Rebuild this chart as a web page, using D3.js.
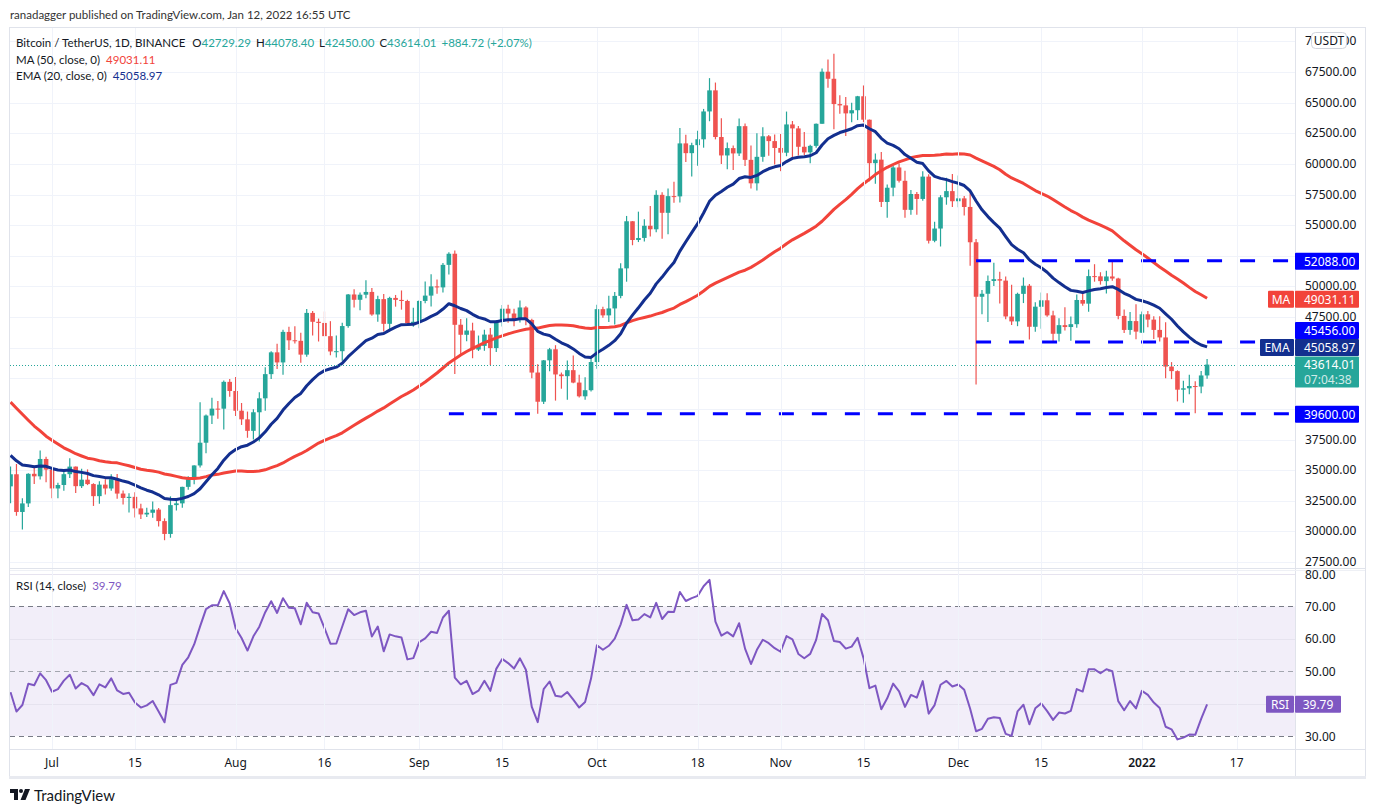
<!DOCTYPE html>
<html><head><meta charset="utf-8">
<script src="https://cdn.jsdelivr.net/npm/d3@7/dist/d3.min.js"></script>
<style>
html,body{margin:0;padding:0;background:#fff;}
svg{display:block;font-family:"Noto Sans",sans-serif;}
.lbl{font-family:Lato,"Noto Sans",sans-serif;}
</style></head>
<body>
<svg id="chart" width="1375" height="812"></svg>
<script>
// ---------- DATA ----------
const firstDay = "2021-06-24"; // first candle, one candle per day
const openPrices = [33675,34663,31584,32283,34700,34494,35911,
35045,33502,33786,34669,35288,33690,34220,33863,32875,33815,33502,34259,33086,32729,32820,31874,31383,31520,31778,30839,29790,32144,32287,33634,34258,35381,37237,39457,40019,40016,42206,
41461,39850,39146,38207,39723,40862,42836,44614,43792,46280,45601,45554,44429,47834,47109,47015,45936,44687,44709,46761,49339,48905,49321,49546,47706,48960,46942,49058,48897,48806,46985,
47112,48810,49246,50000,49918,51756,52666,46868,46048,46395,44843,45144,46063,44963,47093,48176,47784,47268,48278,47260,42966,40584,43962,44866,42810,42670,43160,42147,41025,41524,
43820,48141,47634,48200,49224,51471,55315,53785,53955,54949,54659,57471,56006,57370,57347,61672,60875,61528,62005,64280,66002,62193,60688,61286,60853,63078,60328,58413,60575,62253,61859,
61300,60911,63220,62896,61396,60940,61470,63273,67525,66947,64882,64774,64122,64380,65519,63606,60058,60345,56891,58057,59707,58617,56247,57541,57138,58960,53724,54721,57274,57776,
56950,57184,56484,53601,49152,49397,50441,50588,50471,47535,47140,49389,50053,46702,48336,48864,47632,46133,46835,46681,46914,48887,48588,50838,50821,50428,50809,50640,47588,46444,47165,
46217,47722,47286,46446,45832,43451,43082,41566,41679,41864,41822,42729.29];
const highPrices = [35298,35500,32700,34749,35297,36600,36100,
35045,33977,34945,35967,35293,35118,35059,33929,34100,34262,34666,34678,33340,33114,33185,32249,31935,32435,31899,31063,32858,32591,33650,34500,35398,40550,39542,40900,40640,42316,42448,
42599,40480,39780,39969,41350,43392,44700,45310,46454,46700,46743,46218,48144,48000,47372,47950,47160,46000,47033,49382,49757,49500,50500,49875,49229,49368,49156,49300,49666,48907,48250,
48888,50400,51000,50558,51900,52780,52920,47340,47399,47033,45987,46460,46598,47250,48486,48500,48177,48843,48372,47358,43639,44000,44978,45200,42966,43950,44350,42787,42590,44132,
48495,48336,49228,49536,51886,55750,55332,56100,55489,56561,57839,57680,58000,58532,62933,62378,61718,62695,64486,67000,66639,63732,61747,61500,63710,63293,61496,62499,62980,62359,62405,
62437,64270,63500,63086,62595,61560,63286,67789,68524,69000,65600,65450,64990,65550,66401,63617,60840,60976,58320,59845,60029,59444,57876,57700,59398,59150,55280,57445,58865,59176,
59053,57375,57600,53859,49699,50891,51936,51200,50797,50125,49485,50724,50189,48700,49500,49436,48004,47392,48300,47537,49328,49576,51375,51810,51156,51280,52088,50704,48119,47900,48548,
47954,47990,47570,47557,47070,43816,43145,42300,42786,42248,43100,44078.40];
const lowPrices = [32286,31275,30151,32000,33862,34225,34017,
32711,32699,33316,34357,33125,33532,33777,32077,32261,33004,33307,32658,32202,31550,31133,31020,31175,31108,30407,29278,29482,31708,31925,33401,33851,35205,36383,38772,39200,38313,41000,
39422,38690,37642,37508,37332,39853,42446,43261,42779,44800,45341,43770,44252,46000,45500,45938,44376,44203,43928,46622,48273,48050,49030,47600,47112,46315,46371,48345,48100,46853,46700,
46572,48620,48357,49400,49500,50969,42843,44412,45513,44134,44722,44742,43591,44650,46719,47026,46750,47050,46829,42500,39600,40388,43070,40675,41646,40750,42098,40931,40753,41410,
43283,47430,47088,46891,49022,50382,53357,53617,53661,54080,54415,53879,54245,56818,56850,60150,58963,59844,61322,63481,62000,60000,59562,59510,60650,59817,58000,57820,60174,60673,59945,
59405,60624,60382,60677,60721,60050,61322,63273,66222,62822,64100,62278,63400,63576,63400,58574,58373,56474,55600,57353,58487,55610,55838,55837,57000,53500,53610,53256,56666,56476,
56458,55777,51680,42000,47727,47100,50039,48600,47320,46852,46751,48638,45672,46290,46547,47511,45456,45500,46406,45558,46630,48421,47920,50384,50142,49412,50449,47313,46201,46060,45678,
46208,46654,45696,45500,42500,42430,40610,40501,41200,39650,41268,42450.00];
const closePrices = [34663,31584,32283,34700,34494,35911,35045,
33504,33786,34669,35287,33690,34220,33862,32875,33815,33502,34259,33086,32729,32820,31880,31383,31520,31778,30839,29790,32144,32287,33634,34258,35381,37237,39457,40019,40016,42206,41461,
39845,39147,38207,39723,40862,42836,44614,43792,46285,45595,45554,44429,47834,47109,47015,45936,44687,44709,46761,49339,48905,49321,49546,47706,48960,46942,49058,48897,48806,46985,47112,
48810,49246,49999,49915,51756,52663,46863,46049,46395,44842,45144,46063,44963,47092,48176,47783,47267,48278,47260,42965,40583,43961,44865,42810,42670,43160,42147,41026,41524,43824,
48141,47634,48200,49224,51471,55315,53785,53951,54949,54659,57471,56005,57367,57347,61672,60875,61528,62010,64280,66001,62193,60688,61286,60853,63078,60328,58413,60575,62253,61859,61299,
60911,63219,62896,61395,60937,61470,63273,67525,66947,64882,64774,64122,64380,65519,63606,60058,60345,56892,58052,59707,58622,56247,57541,57138,58960,53726,54721,57274,57776,56950,
57184,56480,53601,49152,49397,50441,50588,50471,47545,47140,49389,50053,46702,48343,48864,47632,46131,46834,46681,46914,48889,48588,50838,50821,50429,50809,50640,47588,46444,47178,46306,
47722,47286,46446,45832,43451,43082,41566,41679,41864,41822,42729,43614.01];
// closes before the first visible candle (May 1 - Jun 23 2021), used only as indicator history
const historyCloses = [57800,56578,57169,53200,57436,56393,57314,58862,58240,55816,56670,49631,49670,49841,46762,46431,43538,42850,36690,40526,37252,37449,34655,38797,38324,39241,38529,35663,34605,35641,37253,
36693,37569,39246,36829,35514,35796,33552,33380,37389,36662,37331,35546,39020,40516,40144,38349,38092,35819,35483,35600,31608,32509,33675];

const priceTicks = [27500,30000,32500,35000,37500,40000,42500,45000,47500,50000,52500,55000,57500,60000,62500,65000,67500,70000];
const rsiTicks = [30,40,50,60,70,80];
const rsiDashedLevels = [70,50,30];
const dateTickDays = ["2021-07-01","2021-07-15","2021-08-01","2021-08-16","2021-09-01","2021-09-15","2021-10-01","2021-10-18","2021-11-01","2021-11-15","2021-12-01","2021-12-15","2022-01-01","2022-01-17"];
const dateTickLabels = ["Jul","15","Aug","16","Sep","15","Oct","18","Nov","15","Dec","15","2022","17"];
const levelValues = [52088,45456,39600];
const levelStartDays = ["2021-12-04","2021-12-04","2021-09-06"];
const legendOHLC = ["42729.29","44078.40","42450.00","43614.01"];
const legendChange = "+884.72 (+2.07%)";
const maValue = 49031.11, emaValue = 45058.97, rsiValue = 39.79, lastClose = 43614.01;
const countdown = "07:04:38";

// ---------- LAYOUT ----------
const svg = d3.select("#chart");
const L = 10, R = 1295, mainTop = 28, mainBottom = 568, rsiTop = 570, rsiBottom = 749;
const UP = "#26a69a", DOWN = "#ef5350", MA_C = "#f2433a", EMA_C = "#132f8f", RSI_C = "#7e57c2", LVL_C = "#0000ff";
const GRID = "#f0f3fa", TXT = "#131722";

const parse = d3.utcParse("%Y-%m-%d");
const day0 = parse(firstDay);
const dates = closePrices.map((_, i) => d3.utcDay.offset(day0, i));
const x = d3.scaleUtc().domain([parse("2021-07-01"), parse("2022-01-17")]).range([52, 1236.7]);
const y = d3.scaleLinear().domain([27500, 67500]).range([562, 72]);
const yr = d3.scaleLinear().domain([30, 80]).range([736, 574]);

// indicators from closes
const allCloses = historyCloses.concat(closePrices);
const off = historyCloses.length;
const ma50 = closePrices.map((_, i) => d3.mean(allCloses.slice(off + i - 49, off + i + 1)));
const ema20 = []; { let e = d3.mean(allCloses.slice(0, 20)); const k = 2 / 21;
  for (let j = 20; j < allCloses.length; j++) { e = allCloses[j] * k + e * (1 - k); if (j >= off) ema20.push(e); } }
const rsi = []; { let ag = 0, al = 0;
  for (let j = 1; j <= 14; j++) { const d = allCloses[j] - allCloses[j-1]; ag += Math.max(d,0); al += Math.max(-d,0); }
  ag /= 14; al /= 14;
  for (let j = 15; j < allCloses.length; j++) { const d = allCloses[j] - allCloses[j-1];
    ag = (ag * 13 + Math.max(d,0)) / 14; al = (al * 13 + Math.max(-d,0)) / 14;
    if (j >= off) rsi.push(100 - 100 / (1 + ag / al)); } }

const defs = svg.append("defs");
defs.append("clipPath").attr("id","cMain").append("rect").attr("x",L).attr("y",mainTop).attr("width",R-L).attr("height",mainBottom-mainTop);
defs.append("clipPath").attr("id","cRsi").append("rect").attr("x",L).attr("y",rsiTop).attr("width",R-L).attr("height",rsiBottom-rsiTop);
defs.append("clipPath").attr("id","cMainAx").append("rect").attr("x",R).attr("y",mainTop).attr("width",80).attr("height",mainBottom-mainTop);
defs.append("clipPath").attr("id","cRsiAx").append("rect").attr("x",R).attr("y",rsiTop).attr("width",80).attr("height",rsiBottom-rsiTop);

// header
svg.append("text").attr("class","lbl").attr("x",10).attr("y",19).attr("font-size",11.5).attr("fill","#333").text("ranadagger published on TradingView.com, Jan 12, 2022 16:55 UTC");

// grid
const gMain = svg.append("g").attr("clip-path","url(#cMain)");
const gRsi = svg.append("g").attr("clip-path","url(#cRsi)");
svg.append("g").selectAll("line").data(dateTickDays).join("line")
  .attr("x1",d=>Math.round(x(parse(d)))+0.5).attr("x2",d=>Math.round(x(parse(d)))+0.5)
  .attr("y1",mainTop).attr("y2",rsiBottom).attr("stroke",GRID).attr("stroke-width",1);
gMain.selectAll("line.h").data(priceTicks).join("line").attr("class","h")
  .attr("x1",L).attr("x2",R).attr("y1",d=>Math.round(y(d))+0.5).attr("y2",d=>Math.round(y(d))+0.5).attr("stroke",GRID);

// RSI band & grid
gRsi.append("rect").attr("x",L).attr("width",R-L).attr("y",yr(70)).attr("height",yr(30)-yr(70)).attr("fill","rgba(126,87,194,0.1)");
gRsi.selectAll("line.h").data(rsiTicks.filter(t=>!rsiDashedLevels.includes(t))).join("line").attr("class","h")
  .attr("x1",L).attr("x2",R).attr("y1",d=>Math.round(yr(d))+0.5).attr("y2",d=>Math.round(yr(d))+0.5).attr("stroke","#e6e3ef");
gRsi.selectAll("line.d").data(rsiDashedLevels).join("line").attr("class","d")
  .attr("x1",L).attr("x2",R).attr("y1",d=>Math.round(yr(d))+0.5).attr("y2",d=>Math.round(yr(d))+0.5)
  .attr("stroke",d=>d===50?"#a3a6af":"#787b86").attr("stroke-dasharray","5,4");

// candles
const cg = gMain.append("g");
const cIdx = d3.range(closePrices.length);
cg.selectAll("line.w").data(cIdx).join("line").attr("class","w")
  .attr("x1",i=>x(dates[i])).attr("x2",i=>x(dates[i]))
  .attr("y1",i=>y(highPrices[i])).attr("y2",i=>y(lowPrices[i]))
  .attr("stroke",i=>closePrices[i]>=openPrices[i]?UP:DOWN).attr("stroke-width",1.2);
cg.selectAll("rect").data(cIdx).join("rect")
  .attr("x",i=>x(dates[i])-2.3).attr("width",4.6)
  .attr("y",i=>y(Math.max(openPrices[i],closePrices[i])))
  .attr("height",i=>Math.max(1,Math.abs(y(openPrices[i])-y(closePrices[i]))))
  .attr("fill",i=>closePrices[i]>=openPrices[i]?UP:DOWN);

// MA / EMA
const lineMain = arr => d3.line().x((_,i)=>x(dates[i])).y(d=>y(d))(arr);
gMain.append("path").attr("d",lineMain(ma50)).attr("fill","none").attr("stroke",MA_C).attr("stroke-width",3).attr("stroke-linejoin","round");
gMain.append("path").attr("d",lineMain(ema20)).attr("fill","none").attr("stroke",EMA_C).attr("stroke-width",3).attr("stroke-linejoin","round");

// level lines
gMain.selectAll("line.lvl").data(levelValues).join("line").attr("class","lvl")
  .attr("x1",(d,i)=>x(parse(levelStartDays[i]))).attr("x2",R)
  .attr("y1",d=>y(d)).attr("y2",d=>y(d)).attr("stroke",LVL_C).attr("stroke-width",3).attr("stroke-dasharray","15,18");

// last price dotted line
gMain.append("line").attr("x1",L).attr("x2",R).attr("y1",Math.round(y(lastClose))+0.5).attr("y2",Math.round(y(lastClose))+0.5)
  .attr("stroke",UP).attr("stroke-dasharray","1,2");

// RSI line
gRsi.append("path").attr("d",d3.line().x((_,i)=>x(dates[i])).y(d=>yr(d))(rsi)).attr("fill","none").attr("stroke",RSI_C).attr("stroke-width",2).attr("stroke-linejoin","round");

// frame
const fr = svg.append("g").attr("fill","none");
fr.append("rect").attr("x",9.5).attr("y",27.5).attr("width",1356).attr("height",749).attr("stroke","#e0e3eb");
fr.append("line").attr("x1",1295.5).attr("x2",1295.5).attr("y1",28).attr("y2",777).attr("stroke","#e0e3eb");
fr.append("line").attr("x1",10).attr("x2",1365).attr("y1",568.5).attr("y2",568.5).attr("stroke","#e0e3eb");
fr.append("line").attr("x1",10).attr("x2",1365).attr("y1",570.5).attr("y2",570.5).attr("stroke","#eef0f5");
fr.append("line").attr("x1",10).attr("x2",1365).attr("y1",749.5).attr("y2",749.5).attr("stroke","#e0e3eb");
fr.append("line").attr("x1",9).attr("x2",1366).attr("y1",777.5).attr("y2",777.5).attr("stroke","#e8eaf0").attr("stroke-width",3);

// tag positions (stacked upward from the last price tag)
const priceTop = y(lastClose) - 8;
const emaC = Math.min(y(emaValue) + 0.5, priceTop - 8.5);
const lvl2C = Math.min(y(levelValues[1]), emaC - 17);
const tagCenters = [y(levelValues[0]) + 0.5, y(maValue) + 1, lvl2C, emaC, y(levelValues[2]) + 0.5, priceTop + 15.5];
const hiddenByTag = v => tagCenters.some(c => Math.abs(y(v) - c) < 10);

// price axis labels (those fully covered by a tag are not drawn)
svg.append("g").attr("clip-path","url(#cMainAx)").selectAll("text").data(priceTicks.filter(v=>!hiddenByTag(v))).join("text")
  .attr("x",1305).attr("y",d=>y(d)+4).attr("font-size",12).attr("fill",TXT).text(d=>d3.format(".2f")(d));
svg.append("g").attr("clip-path","url(#cRsiAx)").selectAll("text").data(rsiTicks.filter(v=>Math.abs(yr(v)-yr(rsiValue))>=10)).join("text")
  .attr("x",1305).attr("y",d=>yr(d)+4.5).attr("font-size",12).attr("fill",TXT).text(d=>d3.format(".2f")(d));

// date axis labels
svg.append("g").selectAll("text").data(dateTickDays).join("text")
  .attr("x",d=>x(parse(d))).attr("y",766.5).attr("text-anchor","middle").attr("font-size",12)
  .attr("font-weight",(d,i)=>dateTickLabels[i]==="2022"?600:400).attr("fill",TXT).text((d,i)=>dateTickLabels[i]);

// USDT button
svg.append("rect").attr("x",1311.5).attr("y",32.5).attr("width",35).attr("height",16).attr("rx",4).attr("fill","#fff").attr("stroke","#d1d4dc");
svg.append("text").attr("x",1329).attr("y",45).attr("text-anchor","middle").attr("font-size",12).attr("fill",TXT).text("USDT");

const tagG = svg.append("g").attr("font-size",12);
function tag(yc, h, fill, label, name) {
  tagG.append("rect").attr("x",1295).attr("y",yc-h/2).attr("width",64).attr("height",h).attr("rx",1).attr("fill",fill);
  tagG.append("text").attr("x",1304).attr("y",yc+4.5).attr("fill","#fff").text(label);
  if (name) {
    const w = name.length*8+10;
    tagG.append("rect").attr("x",1294-w).attr("y",yc-h/2).attr("width",w).attr("height",h).attr("rx",1).attr("fill",fill);
    tagG.append("text").attr("x",1294-w/2).attr("y",yc+4.5).attr("text-anchor","middle").attr("fill","#fff").text(name);
  }
}
tag(tagCenters[0], 17, LVL_C, d3.format(".2f")(levelValues[0]));
tag(tagCenters[1], 17, MA_C, d3.format(".2f")(maValue), "MA");
tag(tagCenters[2], 17, LVL_C, d3.format(".2f")(levelValues[1]));
tag(tagCenters[3], 17, EMA_C, d3.format(".2f")(emaValue), "EMA");
tag(tagCenters[4], 17, LVL_C, d3.format(".2f")(levelValues[2]));
tagG.append("rect").attr("x",1295).attr("y",priceTop).attr("width",64).attr("height",31).attr("rx",1).attr("fill",UP);
tagG.append("text").attr("x",1304).attr("y",priceTop+12.5).attr("fill","#fff").text(d3.format(".2f")(lastClose));
tagG.append("text").attr("x",1304).attr("y",priceTop+27).attr("fill","rgba(255,255,255,0.8)").text(countdown);
// RSI tag
tagG.append("rect").attr("x",1295).attr("y",yr(rsiValue)-8.5).attr("width",46).attr("height",17).attr("rx",1).attr("fill",RSI_C);
tagG.append("text").attr("x",1318).attr("y",yr(rsiValue)+4.5).attr("text-anchor","middle").attr("fill","#fff").text(rsiValue.toFixed(2));
tagG.append("rect").attr("x",1266).attr("y",yr(rsiValue)-8.5).attr("width",28).attr("height",17).attr("rx",1).attr("fill",RSI_C);
tagG.append("text").attr("x",1280).attr("y",yr(rsiValue)+4.5).attr("text-anchor","middle").attr("fill","#fff").text("RSI");

// legends
const lg = svg.append("g").attr("class","lbl").attr("font-size",11.5).attr("fill",TXT);
const t1 = lg.append("text").attr("x",16).attr("y",46.5);
t1.append("tspan").text("Bitcoin / TetherUS, 1D, BINANCE");
["O","H","L","C"].forEach((k,i)=>{
  t1.append("tspan").attr("dx", i===0 ? 7 : 5).text(k);
  t1.append("tspan").attr("fill",UP).text(legendOHLC[i]);
});
t1.append("tspan").attr("dx",5).attr("fill",UP).text(legendChange);
const t2 = lg.append("text").attr("x",16).attr("y",63.5);
t2.append("tspan").text("MA (50, close, 0)");
t2.append("tspan").attr("dx",6).attr("fill",MA_C).text(d3.format(".2f")(maValue));
const t3 = lg.append("text").attr("x",16).attr("y",79.5);
t3.append("tspan").text("EMA (20, close, 0)");
t3.append("tspan").attr("dx",6).attr("fill",EMA_C).text(d3.format(".2f")(emaValue));
const t4 = lg.append("text").attr("x",16).attr("y",589.5);
t4.append("tspan").text("RSI (14, close)");
t4.append("tspan").attr("dx",6).attr("fill",RSI_C).text(rsiValue.toFixed(2));

// TradingView logo
const logo = svg.append("g").attr("transform","translate(10,789)").attr("fill",TXT);
logo.append("path").attr("d","M0 0H8V11H4V4H0Z");
logo.append("circle").attr("cx",11).attr("cy",2).attr("r",2);
logo.append("path").attr("d","M15 0H20L15.5 11H10.5Z");
svg.append("text").attr("class","lbl").attr("x",34).attr("y",800.5).attr("font-size",15).attr("fill",TXT).text("TradingView");
</script>
</body></html>
